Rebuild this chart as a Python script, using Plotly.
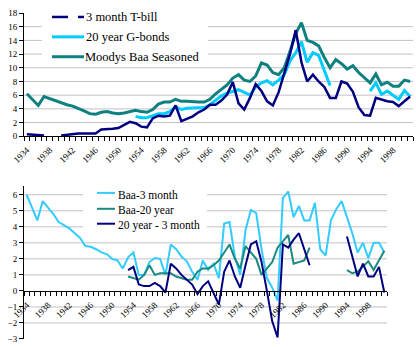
import plotly.graph_objects as go

# ---------------------------------------------------------------- data
years = list(range(1934, 2002))
label_years = list(range(1934, 2002, 4))

N = None
tbill_3m = [0.3, 0.2, 0.1, 0.1, N, N, 0.1, 0.2, 0.4, 0.4,
            0.4, 0.4, 0.4, 1.0, 1.0, 1.1, 1.2, 1.6, 2.1, 1.9,
            1.4, 1.3, 2.6, 3.0, 2.9, 3.0, 4.5, 2.2, 2.6, 2.9,
            3.5, 3.9, 4.6, 4.6, 5.2, 6.1, 7.9, 4.8, 3.9, 5.6,
            7.6, 6.6, 5.1, 4.5, 6.4, 9.1, 12.0, 15.5, 10.8, 8.0,
            9.0, 8.0, 7.2, 5.6, 5.6, 8.0, 7.7, 6.5, 4.2, 3.1,
            3.0, 5.6, 5.3, 5.1, 5.0, 4.4, 5.1, 5.8]

gbond_20y = [N] * 19 + [
            2.9, 2.7, 2.7, 3.0, 3.3, 3.3, 3.6, 4.3, 3.9, 4.1,
            4.1, 4.1, 4.2, 4.6, 5.3, 5.9, 6.3, 6.6, 6.8, 6.4,
            6.0, 7.2, 7.8, 8.1, 7.5, 8.2, 9.0, 11.0, 12.2, 13.8,
            10.8, 12.2, 11.8, 9.6, 7.4,
            N, N, N, N, N, N,
            6.6, 7.8, 6.1, 6.6, 6.0, 5.4, 6.7, 5.8]

baa_seasoned = [6.2, 5.4, 4.5, 5.8, 5.5, 5.2, 4.8, 4.6, 4.4, 4.1,
                3.7, 3.3, 3.2, 3.5, 3.6, 3.4, 3.3, 3.4, 3.6, 3.8,
                3.6, 3.5, 3.9, 4.7, 5.0, 5.0, 5.4, 5.1, 5.1, 5.0,
                5.0, 5.0, 5.4, 6.2, 6.9, 7.5, 8.5, 9.0, 8.2, 8.0,
                8.8, 10.7, 10.4, 9.3, 9.0, 10.0, 12.4, 15.0, 16.6, 14.0,
                13.7, 13.2, 11.5, 10.0, 11.2, 10.6, 9.8, 10.3, 9.3, 8.6,
                7.8, 9.1, 7.5, 7.9, 7.3, 7.3, 8.2, 8.0]

spread_baa_3m = [6.0, 5.2, 4.4, 5.6, 5.2, 4.8, 4.3, 4.1, 3.9, 3.6,
                 3.3, 2.8, 2.75, 2.6, 2.4, 2.3, 2.0, 1.9, 1.4, 2.1,
                 2.4, 1.0, 1.0, 1.8, 2.05, 2.0, 1.0, 2.9, 2.6, 2.15,
                 1.85, 1.2, 0.7, 1.9, 1.3, 1.7, 0.8, 4.2, 4.3, 2.15,
                 1.0, 3.8, 5.05, 4.85, 2.6, 0.8, 0.2, -0.6, 5.8, 6.2,
                 4.6, 5.3, 4.4, 4.4, 5.5, 2.6, 2.2, 4.4, 5.1, 5.6,
                 4.6, 3.6, 2.4, 3.0, 2.05, 3.0, 3.0, 2.4]

spread_baa_20y = [N] * 19 + [
                  0.9, 0.8, 0.7, 1.0, 1.6, 1.0, 1.1, 1.1, 1.1, 0.9,
                  0.8, 0.7, 0.7, 1.2, 1.4, 1.4, 1.6, 1.9, 2.4, 2.9,
                  2.0, 1.4, 2.8, 2.4, 2.0, 1.0, 1.4, 1.8, 2.7, 3.1,
                  3.5, 1.7, 1.8, 1.9, 2.7,
                  N, N, N, N, N, N,
                  1.3, 1.1, 1.2, 1.5, 1.85, 1.3, 1.9, 2.5]

spread_20y_3m = [N] * 19 + [
                 1.3, 1.5, 0.4, 0.3, 0.3, 0.5, 0.3, -0.1, 1.7, 1.4,
                 1.0, 0.7, 0.4, -0.2, 0.3, 0.6, -0.1, -0.85, 1.2, 1.9,
                 0.9, 0.2, 1.6, 2.9, 3.1, 1.8, 0.0, -1.9, -2.9, 2.9,
                 2.7, 3.2, 3.6, 2.6, 1.6,
                 N, N, N, N, N, N,
                 3.4, 2.2, 0.9, 1.7, 0.9, 0.9, 1.5, -0.1]

# ---------------------------------------------------------------- styling
NAVY = "#000080"
CYAN = "#00CCFF"
TEAL = "#0F8080"
GRID = "#C4C0C8"
SERIF = "Liberation Serif, Times New Roman, serif"

W, H = 416, 347
ML, MR, MT, MB = 24, 3, 13, 6
PW, PH = W - ML - MR, H - MT - MB


def px(xp):
    """pixel column -> paper x"""
    return (xp - ML) / PW


def py(yp):
    """pixel row -> paper y"""
    return (H - MB - yp) / PH


TOP_DOM = [py(137), 1.0]
BOT_DOM = [0.0, py(187)]
BOT_XDOM = [0.0, px(387)]
XR = [1933.5, 2001.5]

fig = go.Figure()

# top panel: interest rate levels
fig.add_trace(go.Scatter(x=years, y=baa_seasoned, mode="lines", name="Moodys Baa Seasoned",
                         line=dict(color=TEAL, width=3), xaxis="x", yaxis="y", showlegend=False))
fig.add_trace(go.Scatter(x=years, y=gbond_20y, mode="lines", name="20 year G-bonds",
                         line=dict(color=CYAN, width=3), xaxis="x", yaxis="y", showlegend=False))
fig.add_trace(go.Scatter(x=years, y=tbill_3m, mode="lines", name="3 month T-bill",
                         line=dict(color=NAVY, width=2.5), xaxis="x", yaxis="y", showlegend=False))

# bottom panel: spreads
fig.add_trace(go.Scatter(x=years, y=spread_baa_3m, mode="lines", name="Baa-3 month",
                         line=dict(color="#33CCFF", width=2), xaxis="x2", yaxis="y2", showlegend=False))
fig.add_trace(go.Scatter(x=years, y=spread_baa_20y, mode="lines", name="Baa-20 year",
                         line=dict(color="#1A8A80", width=2), xaxis="x2", yaxis="y2", showlegend=False))
fig.add_trace(go.Scatter(x=years, y=spread_20y_3m, mode="lines", name="20 year - 3 month",
                         line=dict(color=NAVY, width=2), xaxis="x2", yaxis="y2", showlegend=False))

tickfont = dict(family=SERIF, size=9, color="black")
xcommon = dict(range=XR, showgrid=False, zeroline=False, showline=True, linecolor="black",
               linewidth=1, tickmode="array", tickvals=label_years,
               ticktext=[str(y) for y in label_years], tickangle=-45, ticks="outside",
               ticklen=4, tickcolor="rgba(0,0,0,0)", tickfont=tickfont,
               minor=dict(tick0=1933.5, dtick=1, ticks="outside", ticklen=4,
                          tickcolor="black", showgrid=False))
ycommon = dict(showgrid=False, zeroline=False, showline=True, linecolor="black", linewidth=1,
               ticks="outside", ticklen=4, tickcolor="black", tickfont=tickfont)

fig.update_layout(
    width=W, height=H, autosize=False,
    margin=dict(l=ML, r=MR, t=MT, b=MB),
    paper_bgcolor="white", plot_bgcolor="white",
    showlegend=False,
    xaxis=dict(domain=[0, 1], anchor="y", **xcommon),
    yaxis=dict(domain=TOP_DOM, anchor="x", range=[0, 18], tick0=0, dtick=2, **ycommon),
    xaxis2=dict(domain=BOT_XDOM, anchor="free", position=py(293), **xcommon),
    yaxis2=dict(domain=BOT_DOM, anchor="x2", range=[-3, 6.55], tickmode="array",
                tickvals=list(range(-3, 7)), **ycommon),
)

shapes = []
for v in range(2, 18, 2):
    shapes.append(dict(type="line", xref="x domain", yref="y", x0=0, x1=1, y0=v, y1=v,
                       line=dict(color=GRID, width=1), layer="below"))
for v in [-2, -1, 1, 2, 3, 4, 5, 6]:
    shapes.append(dict(type="line", xref="x2 domain", yref="y2", x0=0, x1=1, y0=v, y1=v,
                       line=dict(color=GRID, width=1), layer="below"))

# legend panels
shapes.append(dict(type="rect", xref="paper", yref="paper", x0=px(42), x1=px(208),
                   y0=py(63), y1=py(9), fillcolor="white", line=dict(width=0), layer="above"))
shapes.append(dict(type="rect", xref="paper", yref="paper", x0=px(83), x1=px(207),
                   y0=py(238), y1=py(189), fillcolor="white", line=dict(width=0), layer="above"))

annotations = []


def legend_entry(x0, x1, ysym, ytxt, xtxt, color, width, text, size, segments=None):
    segs = segments or [(x0, x1)]
    for a, b in segs:
        shapes.append(dict(type="line", xref="paper", yref="paper", x0=px(a), x1=px(b),
                           y0=py(ysym), y1=py(ysym), line=dict(color=color, width=width),
                           layer="above"))
    annotations.append(dict(x=px(xtxt), y=py(ytxt), xref="paper", yref="paper", text=text,
                            showarrow=False, xanchor="left", yanchor="middle",
                            font=dict(family=SERIF, size=size, color="black")))


legend_entry(52, 84, 17, 17, 84, NAVY, 2.5, "3 month T-bill", 12.5,
             segments=[(52, 68), (78, 84)])
legend_entry(52, 84, 37, 37, 84, CYAN, 3, "20 year G-bonds", 12.5)
legend_entry(52, 84, 57, 57, 83, TEAL, 3, "Moodys Baa Seasoned", 12.5)

legend_entry(97, 115, 194, 196, 116, "#33CCFF", 2, "Baa-3 month", 11.5)
legend_entry(97, 115, 210, 212, 116, "#1A8A80", 2, "Baa-20 year", 11.5)
legend_entry(97, 115, 225, 227, 116, NAVY, 2, "20 year - 3 month", 11.5)

fig.update_layout(shapes=shapes, annotations=annotations)

fig.write_html("out.html")
